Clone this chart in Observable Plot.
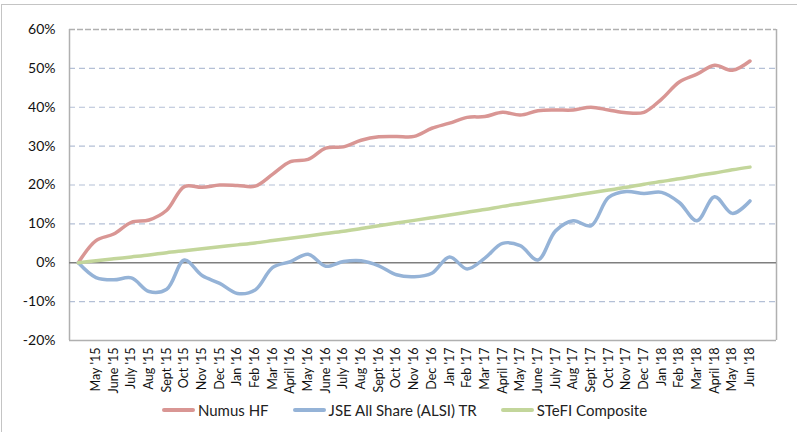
<!DOCTYPE html>
<html>
<head>
<meta charset="utf-8">
<script src="https://cdn.jsdelivr.net/npm/d3@7"></script>
<script src="https://cdn.jsdelivr.net/npm/@observablehq/plot@0.6"></script>
<style>
  html, body { margin: 0; padding: 0; background: #fff; }
  #wrap { position: relative; width: 797px; height: 432px; overflow: hidden; font-family: Lato, "Open Sans", sans-serif; }
  #frameTop { position: absolute; left: 1px; top: 4px; width: 796px; height: 0; border-top: 1.5px solid #c4c4c4; }
  #frameLeft { position: absolute; left: 1px; top: 4px; width: 0; height: 428px; border-left: 1.5px solid #c4c4c4; }
  #chart { position: absolute; left: 0; top: 0; }
  #legend { position: absolute; left: 0; top: 400px; width: 797px; height: 20px; display: flex; justify-content: center; align-items: center; font-size: 15px; color: #222; padding-left: 12px; box-sizing: border-box; }
  .item { display: flex; align-items: center; margin: 0 12px; }
  .sw { width: 33px; height: 3.5px; margin-right: 3px; border-radius: 2px; }
</style>
</head>
<body>
<div id="wrap">
  <div id="chart"></div>
  <div id="frameTop"></div>
  <div id="frameLeft"></div>
  <div id="legend"></div>
</div>
<script>
const months = ["", "May '15", "June '15", "July '15", "Aug '15", "Sept '15", "Oct '15", "Nov '15", "Dec '15",
  "Jan '16", "Feb '16", "Mar '16", "April '16", "May '16", "June '16", "July '16", "Aug '16", "Sept '16", "Oct '16", "Nov '16", "Dec '16",
  "Jan '17", "Feb '17", "Mar '17", "April '17", "May '17", "June '17", "July '17", "Aug '17", "Sept '17", "Oct '17", "Nov '17", "Dec '17",
  "Jan '18", "Feb '18", "Mar '18", "April '18", "May '18", "Jun '18"];

const numusHF = [0, 5.7, 7.4, 10.4, 11.0, 13.5, 19.6, 19.4, 20.0, 19.9, 19.7, 22.8, 26.0, 26.6, 29.5, 29.8, 31.5, 32.4, 32.5, 32.5,
  34.6, 35.9, 37.4, 37.6, 38.7, 38.0, 39.1, 39.3, 39.3, 40.0, 39.3, 38.6, 38.7, 42.1, 46.5, 48.5, 50.8, 49.5, 51.9];

const jseALSI = [0, -3.8, -4.4, -3.9, -7.4, -6.8, 0.7, -3.3, -5.3, -7.9, -7.0, -1.2, 0.3, 2.2, -0.9, 0.3, 0.5, -0.8, -3.1, -3.6,
  -2.7, 1.5, -1.6, 1.2, 5.0, 4.4, 0.7, 8.2, 10.8, 9.5, 16.8, 18.3, 17.8, 18.1, 15.5, 10.8, 17.0, 12.7, 15.9];

const stefi = [0, 0.5, 1.0, 1.5, 2.0, 2.6, 3.1, 3.6, 4.1, 4.6, 5.1, 5.7, 6.3, 6.9, 7.5, 8.1, 8.8, 9.5, 10.2, 10.9,
  11.6, 12.3, 13.0, 13.7, 14.5, 15.2, 15.9, 16.6, 17.3, 18.0, 18.7, 19.4, 20.2, 20.9, 21.6, 22.4, 23.1, 23.9, 24.6];

const seriesNames = ["Numus HF", "JSE All Share (ALSI) TR", "STeFI Composite"];
const seriesColors = ["#d99694", "#95b3d7", "#c3d69b"];
const yTicks = [-20, -10, 0, 10, 20, 30, 40, 50, 60];
const gridTicks = [-10, 10, 20, 30, 40, 50];

const rows = [];
[numusHF, jseALSI, stefi].forEach((vals, s) => {
  vals.forEach((v, i) => rows.push({ i, v: v / 100, series: seriesNames[s] }));
});

const plot = Plot.plot({
  width: 797,
  height: 400,
  marginLeft: 69,
  marginRight: 21,
  marginTop: 29,
  marginBottom: 60,
  style: { fontFamily: "Lato, 'Open Sans', sans-serif", background: "transparent", overflow: "visible" },
  x: { domain: [-0.5, 39.5], axis: null, label: null },
  y: { domain: [-0.2, 0.6], axis: null, label: null },
  color: { domain: seriesNames, range: seriesColors },
  marks: [
    Plot.ruleY(gridTicks.map(d => d / 100), { stroke: "#b4c0d6", strokeWidth: 1.2, strokeDasharray: "6,4" }),
    Plot.ruleY([0.6], { stroke: "#b0b0b0", strokeWidth: 1.5, strokeDasharray: "6,2" }),
    Plot.ruleX([-0.5, 39.5], { stroke: "#b0b0b0", strokeWidth: 1.5 }),
    Plot.ruleY([-0.2], { stroke: "#b0b0b0", strokeWidth: 1.5 }),
    Plot.ruleY([0], { stroke: "#7f7f7f", strokeWidth: 1.5 }),
    Plot.line(rows, { x: "i", y: "v", z: "series", stroke: "series", strokeWidth: 3.5, curve: "catmull-rom" }),
    Plot.axisY(yTicks.map(d => d / 100), {
      tickSize: 0, tickPadding: 14, fontSize: 14, label: null, tickFormat: d => `${Math.round(d * 100)}%`, fill: "#111"
    }),
    Plot.axisX(d3.range(1, months.length), {
      tickSize: 0, tickPadding: 7, tickRotate: -90, fontSize: 12.5, label: null, tickFormat: i => months[i], fill: "#111"
    })
  ]
});
document.getElementById("chart").appendChild(plot);

const legend = document.getElementById("legend");
seriesNames.forEach((name, k) => {
  const it = document.createElement("div");
  it.className = "item";
  const sw = document.createElement("div");
  sw.className = "sw";
  sw.style.background = seriesColors[k];
  const tx = document.createElement("span");
  tx.textContent = name;
  it.appendChild(sw);
  it.appendChild(tx);
  legend.appendChild(it);
});
</script>
</body>
</html>
